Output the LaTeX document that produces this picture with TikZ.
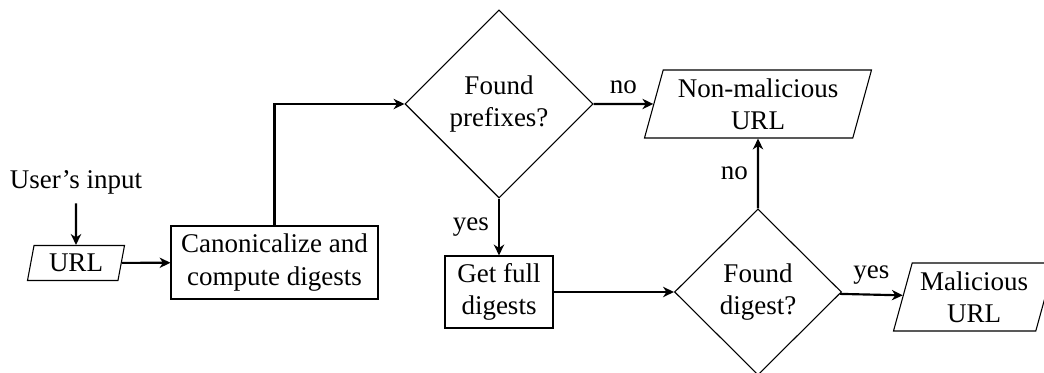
\documentclass[tikz,border=0pt]{standalone}
\usepackage{fontspec}
\setmainfont{Liberation Serif}
\usetikzlibrary{shapes.geometric,arrows.meta}
\newdimen\pxu \pxu=0.37037pt
\tikzset{
  box/.style={draw, rectangle, align=center, inner sep=0pt},
  dec/.style={draw, diamond, aspect=1, align=center, inner sep=0pt},
  io/.style={draw, trapezium, trapezium left angle=70, trapezium right angle=110,
             trapezium stretches body, align=center, inner sep=0pt},
  conn/.style={thick, -{Stealth[length=4pt,width=3.8pt,inset=1.2pt]}},
}
\begin{document}
\begin{tikzpicture}[x=0.37037pt,y=-0.37037pt]
\useasboundingbox (0,0) rectangle (1044,373);
\node (user) at (76,182) {User’s input};
\node[io, minimum width=97\pxu, minimum height=35\pxu] (url) at (76,263) {URL};
\node[box, minimum width=207\pxu, minimum height=73\pxu] (canon) at (274.5,262.5) {Canonicalize and\\compute digests};
\node[dec, minimum width=188\pxu, minimum height=188\pxu] (d1) at (499,104) {Found\\prefixes?};
\node[io, minimum width=227\pxu, minimum height=68\pxu] (nonmal) at (758,104) {Non-malicious\\URL};
\node[box, minimum width=108\pxu, minimum height=72\pxu] (full) at (499,292) {Get full\\digests};
\node[dec, minimum width=167\pxu, minimum height=166\pxu] (d2) at (758,292) {Found\\digest?};
\node[io, minimum width=161\pxu, minimum height=68\pxu] (mal) at (974,297) {Malicious\\URL};

\draw[conn] (user) -- (url);
\draw[conn] (url) -- (canon);
\draw[conn] (canon.north) |- (d1.west);
\draw[conn] (d1.east) -- node[above]{no} (nonmal);
\draw[conn] (d1.south) -- node[left]{yes} (full.north);
\draw[conn] (full) -- (d2);
\draw[conn] (d2.north) -- node[left]{no} (nonmal.south);
\draw[conn] (d2) -- node[above]{yes} (mal);
\end{tikzpicture}
\end{document}
